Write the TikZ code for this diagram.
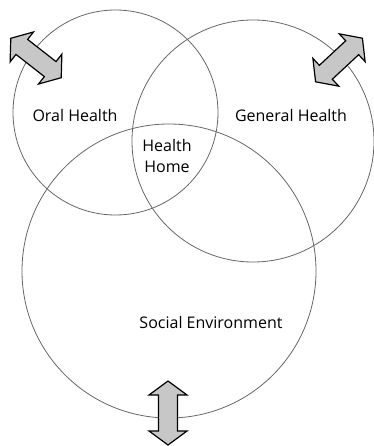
\documentclass[tikz,border=0pt]{standalone}
\usepackage{fontspec}
\setmainfont{Open Sans}
\begin{document}
\begin{tikzpicture}[x=1pt,y=-1pt,
  ring/.style={draw=black!60,line width=0.8pt},
  label/.style={font=\fontsize{16}{21}\selectfont,inner sep=0pt,align=center},
  arrowbody/.style={draw=black,fill=black!22,line width=1.2pt,line join=miter},
  dblarrow/.pic={
    \draw[arrowbody] (-32,0) -- (-18,19) -- (-18,9.5) -- (18,9.5) -- (18,19)
      -- (32,0) -- (18,-19) -- (18,-9.5) -- (-18,-9.5) -- (-18,-19) -- cycle;
  }]
\useasboundingbox (0,0) rectangle (373,446);

% the three overlapping domains
\draw[ring] (115.5,112.5) circle[radius=102.5];
\draw[ring] (253,141) circle[radius=121];
\draw[ring] (169,271) circle[radius=147];

% labels
\node[label] (oral) at (75,116) {Oral Health};
\node[label] (general) at (291,116) {General Health};
\node[label] (home) at (167,156) {Health\\Home};
\node[label] (social) at (211,322) {Social Environment};

% two-way exchange arrows
\pic at (36,58) [rotate=-38] {dblarrow};
\pic at (339,60) [rotate=43] {dblarrow};
\pic at (168,413) [rotate=90] {dblarrow};
\end{tikzpicture}
\end{document}
